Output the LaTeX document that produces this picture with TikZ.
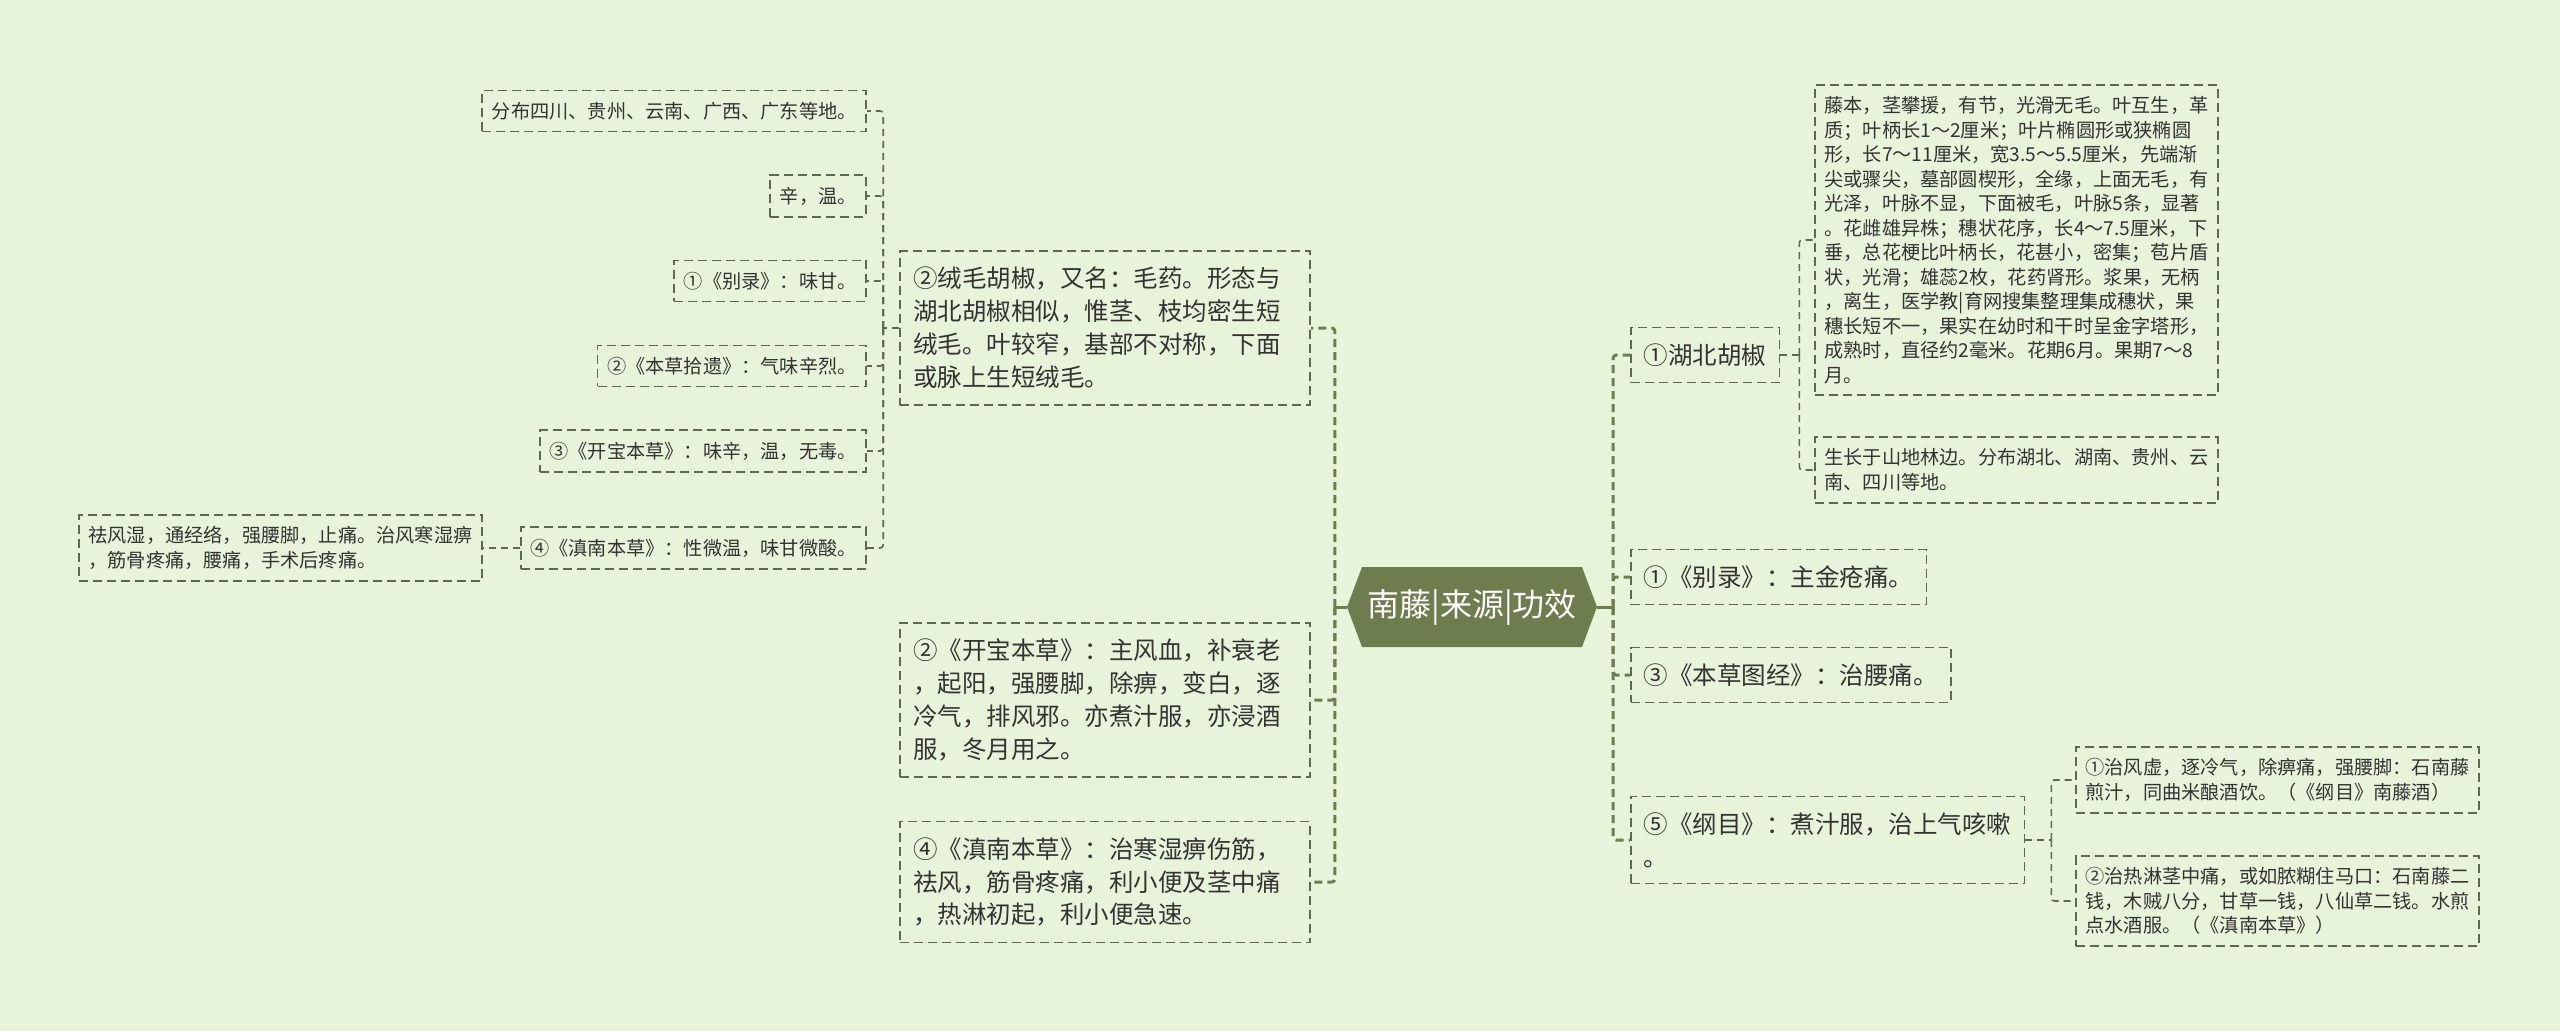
\documentclass[tikz,border=0pt]{standalone}
\usepackage{fontspec}
\setmainfont{Noto Sans CJK SC}
\usepackage{xcolor}
\usetikzlibrary{positioning}
\definecolor{bgc}{HTML}{E8F4DA}
\definecolor{boxline}{HTML}{5C6A50}
\definecolor{hexgreen}{HTML}{6E7D4E}
\definecolor{txt}{HTML}{333333}

\begin{document}
\begin{tikzpicture}[x=1pt,y=-1pt,
  leaf/.style={draw=boxline,line width=1.8pt,dash pattern=on 9pt off 5pt,
               align=left,inner xsep=9.5pt,inner ysep=11.5pt,text=txt,
               font=\fontsize{19.2}{24.5}\selectfont},
  midbox/.style={leaf,inner xsep=13pt,inner ysep=16pt,
                 font=\fontsize{24.5}{32.8}\selectfont},
  ctrtext/.style={text=white,inner sep=0pt,minimum width=250pt,minimum height=80pt,
                  font=\fontsize{32}{38}\selectfont},
  link/.style={draw=boxline,line width=1.6pt,dash pattern=on 7pt off 5pt,rounded corners=3pt},
  mainlink/.style={draw=hexgreen,line width=3pt,dash pattern=on 8pt off 5pt,rounded corners=3pt},
  stub/.style={draw=hexgreen,line width=3pt}]
\useasboundingbox (0,0) rectangle (2560,1031);
\fill[bgc] (0,0) rectangle (2560,1031);

% centre
\fill[hexgreen] (1347,607) -- ++(15,-40) -- ++(220,0) -- ++(15,40) -- ++(-15,40) -- ++(-220,0) -- cycle;
\node[ctrtext] (ctr) at (1472,607) {南藤|来源|功效};

% right branch
\node[midbox,anchor=west] (hb) at (1630,355) {①湖北胡椒};
\node[midbox,anchor=west] (r2) at (1630,577) {①《别录》：主金疮痛。};
\node[midbox,anchor=west] (r3) at (1630,675) {③《本草图经》：治腰痛。};
\node[midbox,anchor=west] (r4) at (1630,840) {⑤《纲目》：煮汁服，治上气咳嗽\\。};

\node[leaf,anchor=west] (t1) at (1814,240) {藤本，茎攀援，有节，光滑无毛。叶互生，革\\
质；叶柄长1～2厘米；叶片椭圆形或狭椭圆\\
形，长7～11厘米，宽3.5～5.5厘米，先端渐\\
尖或骤尖，墓部圆楔形，全缘，上面无毛，有\\
光泽，叶脉不显，下面被毛，叶脉5条，显著\\
。花雌雄异株；穗状花序，长4～7.5厘米，下\\
垂，总花梗比叶柄长，花甚小，密集；苞片盾\\
状，光滑；雄蕊2枚，花药肾形。浆果，无柄\\
，离生，医学教|育网搜集整理集成穗状，果\\
穗长短不一，果实在幼时和干时呈金字塔形，\\
成熟时，直径约2毫米。花期6月。果期7～8\\
月。};
\node[leaf,anchor=west] (t2) at (1814,470) {生长于山地林边。分布湖北、湖南、贵州、云\\南、四川等地。};
\node[leaf,anchor=west] (g1) at (2075,780) {①治风虚，逐冷气，除痹痛，强腰脚：石南藤\\煎汁，同曲米酿酒饮。（《纲目》南藤酒）};
\node[leaf,anchor=west] (g2) at (2075,901) {②治热淋茎中痛，或如脓糊住马口：石南藤二\\钱，木贼八分，甘草一钱，八仙草二钱。水煎\\点水酒服。（《滇南本草》）};

% left branch
\node[midbox,anchor=east,text width=384pt] (ry) at (1311,328) {②绒毛胡椒，又名：毛药。形态与\\湖北胡椒相似，惟茎、枝均密生短\\绒毛。叶较窄，基部不对称，下面\\或脉上生短绒毛。};
\node[midbox,anchor=east,text width=384pt] (kb) at (1311,700) {②《开宝本草》：主风血，补衰老\\，起阳，强腰脚，除痹，变白，逐\\冷气，排风邪。亦煮汁服，亦浸酒\\服，冬月用之。};
\node[midbox,anchor=east,text width=384pt] (dn) at (1311,882) {④《滇南本草》：治寒湿痹伤筋，\\祛风，筋骨疼痛，利小便及茎中痛\\，热淋初起，利小便急速。};

\node[leaf,anchor=east] (l1) at (867,111) {分布四川、贵州、云南、广西、广东等地。};
\node[leaf,anchor=east] (l2) at (867,196) {辛，温。};
\node[leaf,anchor=east] (l3) at (867,281) {①《别录》：味甘。};
\node[leaf,anchor=east] (l4) at (867,366) {②《本草拾遗》：气味辛烈。};
\node[leaf,anchor=east] (l5) at (867,451) {③《开宝本草》：味辛，温，无毒。};
\node[leaf,anchor=east] (l6) at (867,548) {④《滇南本草》：性微温，味甘微酸。};
\node[leaf,left=37pt of l6] (l7) {祛风湿，通经络，强腰脚，止痛。治风寒湿痹\\，筋骨疼痛，腰痛，手术后疼痛。};

% connectors
\draw[stub] (ctr.east) -- ++(16,0) coordinate (rb);
\draw[stub] (ctr.west) -- ++(-12,0) coordinate (lb);
\foreach \n in {hb,r2,r3,r4} \draw[mainlink] (rb) |- (\n.west);
\foreach \n in {ry,kb,dn} \draw[mainlink] (lb) |- (\n.east);
\draw[link] (hb.east) -- ++(19,0) coordinate (hbx);
\foreach \n in {t1,t2} \draw[link] (hbx) |- (\n.west);
\draw[link] (r4.east) -- ++(26,0) coordinate (r4x);
\foreach \n in {g1,g2} \draw[link] (r4x) |- (\n.west);
\draw[link] (ry.west) -- ++(-16,0) coordinate (ryx);
\foreach \n in {l1,l2,l3,l4,l5,l6} \draw[link] (ryx) |- (\n.east);
\draw[link] (l6.west) -- (l7.east);
\end{tikzpicture}
\end{document}
